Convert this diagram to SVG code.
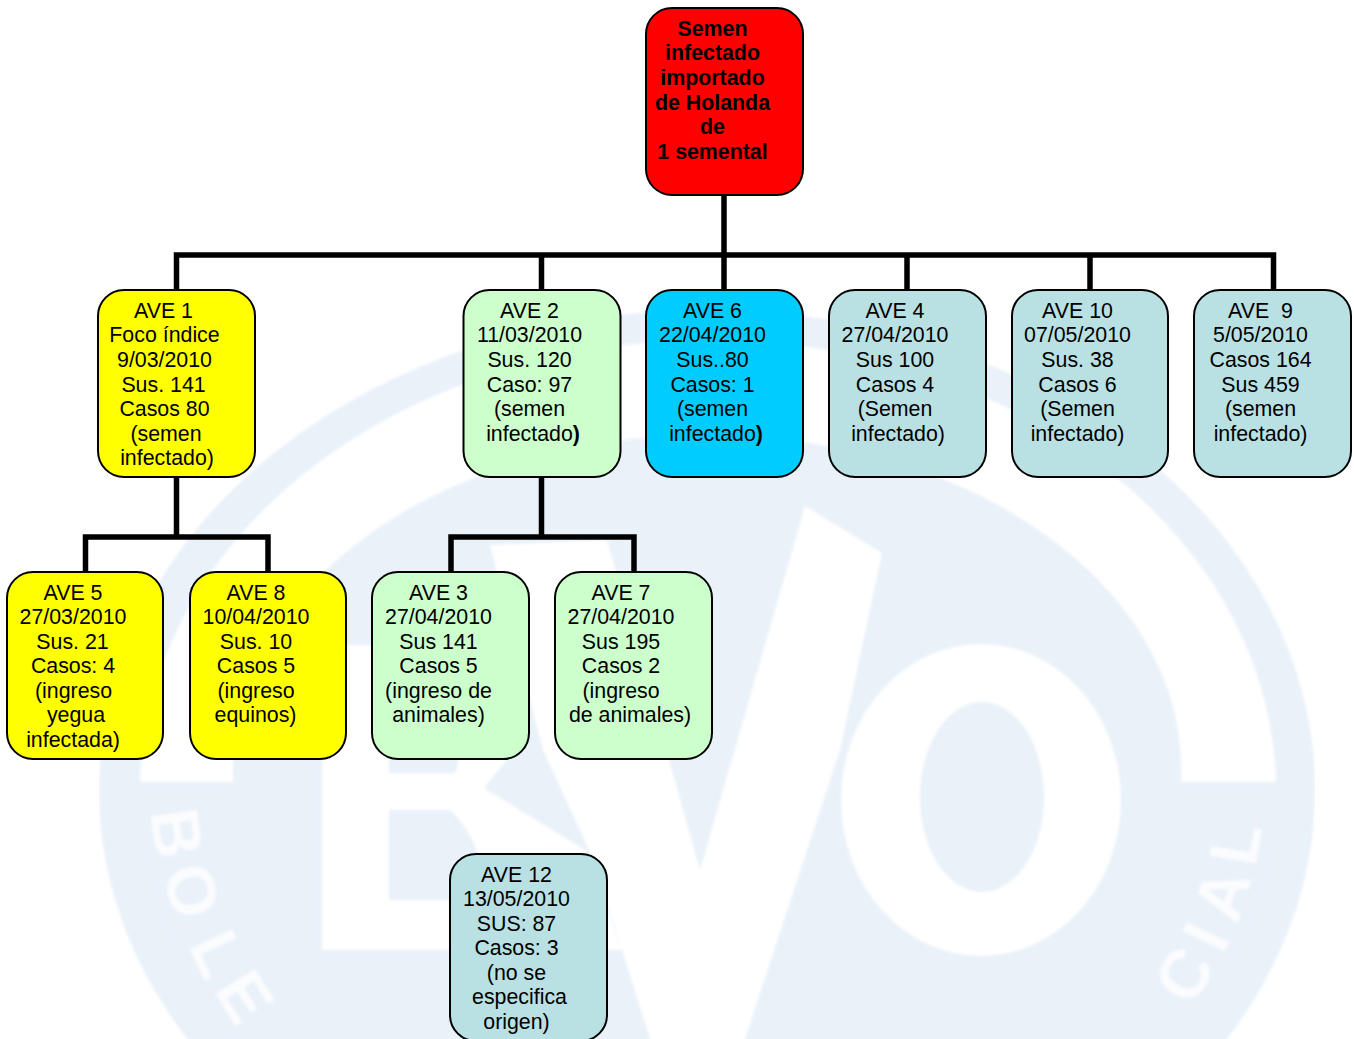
<svg xmlns="http://www.w3.org/2000/svg" width="1354" height="1039" viewBox="0 0 1354 1039">
<style>
.n{stroke:#000;stroke-width:2}
.t{font-family:"Liberation Sans",Arial,sans-serif;font-size:21.35px;fill:#000;text-anchor:middle}
.b{font-weight:bold}
.c{fill:none;stroke:#000;stroke-width:5.5;stroke-linejoin:miter}
.wm{fill:#e9f1f9}
.wl{fill:#fff}
.wt{font-family:"Liberation Sans",Arial,sans-serif;font-weight:bold;font-size:68px;fill:#fff;fill-opacity:.8}
</style>
<defs>
<filter id="soft" x="0" y="0" width="1" height="1"><feGaussianBlur stdDeviation="1.5"/></filter>
<clipPath id="low"><rect x="0" y="782" width="1354" height="300"/></clipPath>
</defs>
<rect width="1354" height="1039" fill="#fff"/>
<g id="watermark" filter="url(#soft)">
<ellipse class="wm" cx="707" cy="790" rx="608" ry="480"/>
<ellipse class="wl" cx="708" cy="790" rx="568" ry="450"/>
<ellipse class="wm" cx="708" cy="790" rx="568" ry="450" clip-path="url(#low)"/>
<ellipse class="wm" cx="707" cy="768" rx="474" ry="333"/>
<rect class="wm" x="233" y="768" width="948" height="60"/>
<text class="wt" x="150 162 188 213" y="812 872 945 990" rotate="82 74 65 58">BOLE</text>
<text class="wt" x="1191 1223 1237 1255" y="1008 955 925 868" rotate="-58 -65 -72 -80">CIAL</text>
<path class="wl" d="M322 645H480Q525 700 515 750L484 788L585 850L622 950H322Z"/>
<path class="wm" d="M389 690H440Q470 730 455 773H389ZM389 810H450Q490 850 478 900H389Z"/>
<path class="wl" d="M490 545L607 540L700 870L805 506L882 553L840 750L743 1045H652L622 950L589 850L543 750Z"/>
<ellipse class="wl" cx="981" cy="800" rx="140" ry="156"/>
<ellipse class="wm" cx="982" cy="797" rx="62" ry="95"/>
</g>
<g id="connectors">
<path class="c" d="M724 195V290M176.500 290V255H1273.500V290M541.500 255V290M907 255V290M1090 255V290"/>
<path class="c" d="M176.500 477V537M85.500 572V537H268V572"/>
<path class="c" d="M541.500 477V537M451 572V537H634V572"/>
</g>
<g id="semen"><rect class="n" x="646" y="8" width="157" height="187" rx="26" fill="#f00"/>
<text class="t b" x="712.500" y="36">Semen</text><text class="t b" x="712.500" y="60">infectado</text><text class="t b" x="712.500" y="85">importado</text><text class="t b" x="712.500" y="110">de Holanda</text><text class="t b" x="712.500" y="134">de</text><text class="t b" x="712.500" y="159">1 semental</text></g>
<g id="ave1"><rect class="n" x="98" y="290" width="157" height="187" rx="26" fill="#ff0"/>
<text class="t" x="163.500" y="318">AVE 1</text><text class="t" x="164.500" y="342">Foco índice</text><text class="t" x="164.500" y="367">9/03/2010</text><text class="t" x="163.500" y="392">Sus. 141</text><text class="t" x="164.500" y="416">Casos 80</text><text class="t" x="166" y="441">(semen</text><text class="t" x="167" y="465">infectado)</text></g>
<g id="ave2"><rect class="n" x="463.500" y="290" width="157" height="187" rx="26" fill="#cfc"/>
<text class="t" x="529.500" y="318">AVE 2</text><text class="t" x="529.500" y="342">11/03/2010</text><text class="t" x="529.500" y="367">Sus. 120</text><text class="t" x="529.500" y="392">Caso: 97</text><text class="t" x="529.500" y="416">(semen</text><text class="t" x="533" y="441">infectado<tspan class="b">)</tspan></text></g>
<g id="ave6"><rect class="n" x="646" y="290" width="157" height="187" rx="26" fill="#0cf"/>
<text class="t" x="712.500" y="318">AVE 6</text><text class="t" x="712.500" y="342">22/04/2010</text><text class="t" x="712.500" y="367">Sus..80</text><text class="t" x="712.500" y="392">Casos: 1</text><text class="t" x="712.500" y="416">(semen</text><text class="t" x="716" y="441">infectado<tspan class="b">)</tspan></text></g>
<g id="ave4"><rect class="n" x="829" y="290" width="157" height="187" rx="26" fill="#b9e0e3"/>
<text class="t" x="895" y="318">AVE 4</text><text class="t" x="895" y="342">27/04/2010</text><text class="t" x="895" y="367">Sus 100</text><text class="t" x="895" y="392">Casos 4</text><text class="t" x="895" y="416">(Semen</text><text class="t" x="898" y="441">infectado)</text></g>
<g id="ave10"><rect class="n" x="1012" y="290" width="156" height="187" rx="26" fill="#b9e0e3"/>
<text class="t" x="1077.500" y="318">AVE 10</text><text class="t" x="1077.500" y="342">07/05/2010</text><text class="t" x="1077.500" y="367">Sus. 38</text><text class="t" x="1077.500" y="392">Casos 6</text><text class="t" x="1077.500" y="416">(Semen</text><text class="t" x="1077.500" y="441">infectado)</text></g>
<g id="ave9"><rect class="n" x="1194" y="290" width="157" height="187" rx="26" fill="#b9e0e3"/>
<text class="t" x="1260.500" y="318" xml:space="preserve">AVE  9</text><text class="t" x="1260.500" y="342">5/05/2010</text><text class="t" x="1260.500" y="367">Casos 164</text><text class="t" x="1260.500" y="392">Sus 459</text><text class="t" x="1260.500" y="416">(semen</text><text class="t" x="1260.500" y="441">infectado)</text></g>
<g id="ave5"><rect class="n" x="7" y="572" width="156" height="187" rx="26" fill="#ff0"/>
<text class="t" x="73" y="600">AVE 5</text><text class="t" x="73" y="624">27/03/2010</text><text class="t" x="72.500" y="649">Sus. 21</text><text class="t" x="73" y="673">Casos: 4</text><text class="t" x="73.500" y="698">(ingreso</text><text class="t" x="76" y="722">yegua</text><text class="t" x="73" y="747">infectada)</text></g>
<g id="ave8"><rect class="n" x="190" y="572" width="156" height="187" rx="26" fill="#ff0"/>
<text class="t" x="256" y="600">AVE 8</text><text class="t" x="256" y="624">10/04/2010</text><text class="t" x="256" y="649">Sus. 10</text><text class="t" x="256" y="673">Casos 5</text><text class="t" x="256" y="698">(ingreso</text><text class="t" x="255.500" y="722">equinos)</text></g>
<g id="ave3"><rect class="n" x="372" y="572" width="157" height="187" rx="26" fill="#cfc"/>
<text class="t" x="438.500" y="600">AVE 3</text><text class="t" x="438.500" y="624">27/04/2010</text><text class="t" x="438.500" y="649">Sus 141</text><text class="t" x="438.500" y="673">Casos 5</text><text class="t" x="438.500" y="698">(ingreso de</text><text class="t" x="438.500" y="722">animales)</text></g>
<g id="ave7"><rect class="n" x="555" y="572" width="157" height="187" rx="26" fill="#cfc"/>
<text class="t" x="621" y="600">AVE 7</text><text class="t" x="621" y="624">27/04/2010</text><text class="t" x="621" y="649">Sus 195</text><text class="t" x="621" y="673">Casos 2</text><text class="t" x="621" y="698">(ingreso</text><text class="t" x="630" y="722">de animales)</text></g>
<g id="ave12"><rect class="n" x="450" y="854" width="157" height="187" rx="26" fill="#b9e0e3"/>
<text class="t" x="516.500" y="882">AVE 12</text><text class="t" x="516.500" y="906">13/05/2010</text><text class="t" x="516.500" y="931">SUS: 87</text><text class="t" x="516.500" y="955">Casos: 3</text><text class="t" x="516.500" y="980">(no se</text><text class="t" x="519.500" y="1004">especifica</text><text class="t" x="516.500" y="1029">origen)</text></g>
</svg>
